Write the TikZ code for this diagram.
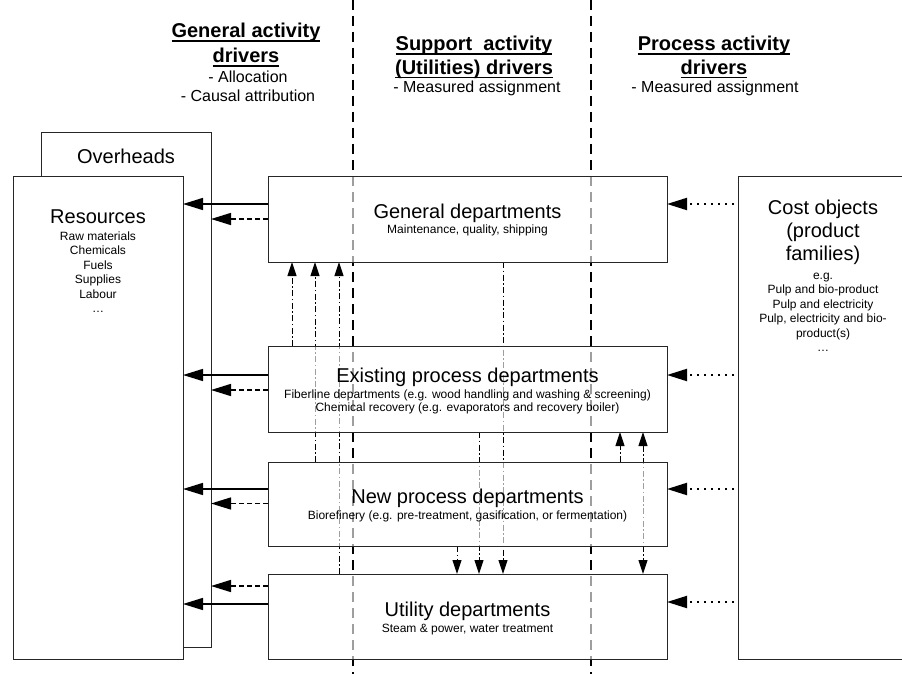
\documentclass[tikz,border=0pt]{standalone}
\usepackage{fontspec}
\setmainfont{Liberation Sans}
\usetikzlibrary{arrows.meta,calc,backgrounds}

% heading underline: a rule under the whole line
\newcommand\ulh[1]{\setbox0=\hbox{#1}\rlap{\rule[-4pt]{\wd0}{1.7pt}}\box0}

\tikzset{
  seethrough/.style={draw=black!85, line width=1pt, fill=white, fill opacity=0.62,
    text opacity=1, inner sep=0pt, outer sep=0pt},
  opaquebox/.style={draw=black!85, line width=1pt, fill=white, inner sep=0pt, outer sep=0pt},
  bigtxt/.style={font=\fontsize{20}{23}\selectfont, anchor=base, inner sep=0pt},
  smalltxt/.style={font=\fontsize{12}{14}\selectfont, anchor=base, inner sep=0pt},
  headtxt/.style={font=\bfseries\fontsize{20}{24}\selectfont, anchor=base, inner sep=0pt},
  subtxt/.style={font=\fontsize{16}{18}\selectfont, anchor=base, inner sep=0pt},
  bigtip/.tip={Triangle[length=20pt,width=12pt]},
  smalltip/.tip={Triangle[length=14pt,width=9pt]},
  solidarr/.style={line width=1.5pt, -bigtip},
  dasharr/.style={line width=1.5pt, dash pattern=on 5pt off 3pt, -bigtip},
  dotarr/.style={line width=2pt, dash pattern=on 2pt off 5pt, -bigtip, shorten <=4pt},
  ddarr/.style={line width=1pt, dash pattern=on 6pt off 2.5pt on 1.5pt off 2.5pt, -smalltip},
  ddboth/.style={ddarr, smalltip-smalltip},
  separator/.style={line width=1.3pt, dash pattern=on 10pt off 6pt},
}

\begin{document}
\begin{tikzpicture}[x=1pt,y=-1pt]
\useasboundingbox (0,0) rectangle (902,674);
\clip (0,0) rectangle (902,674);

% ---------- boxes ----------
\node[opaquebox, minimum width=170pt, minimum height=514pt] (ovh) at (126,390) {};
\node[opaquebox, minimum width=170pt, minimum height=483pt] (res) at (98,417.5) {};
\node[opaquebox, minimum width=182pt, minimum height=483pt] (cost) at (829,417.5) {};

\node[seethrough, minimum width=399pt, minimum height=86pt] (gen)  at (467.5,219) {};
\node[seethrough, minimum width=399pt, minimum height=86pt] (ex)   at (467.5,389) {};
\node[seethrough, minimum width=399pt, minimum height=84pt] (new)  at (467.5,504) {};
\node[seethrough, minimum width=399pt, minimum height=85pt] (util) at (467.5,616.5) {};

% ---------- column headings ----------
\node[headtxt] (h1a) at (246,38) {\ulh{General activity}};
\node[headtxt] (h1b) at (246,63) {\ulh{drivers}};
\node[subtxt]  (h1c) at (248,83) {- Allocation};
\node[subtxt]  (h1d) at (248,102) {- Causal attribution};

\node[headtxt] (h2a) at (474,51) {\ulh{Support\ \ activity}};
\node[headtxt] (h2b) at (474,74.5) {\ulh{(Utilities) drivers}};
\node[subtxt]  (h2c) at (477,93) {- Measured assignment};

\node[headtxt] (h3a) at (714,51) {\ulh{Process activity}};
\node[headtxt] (h3b) at (714,74.5) {\ulh{drivers}};
\node[subtxt]  (h3c) at (715,93) {- Measured assignment};

% ---------- box texts ----------
\node[bigtxt] (ovhT) at (126,164) {Overheads};

\node[bigtxt] (resT) at (98,223) {Resources};
\foreach \t/\y [count=\i] in {Raw materials/240, Chemicals/254.5, Fuels/269,
    Supplies/283.5, Labour/298, \dots/312}
  \node[smalltxt] (res\i) at (98,\y) {\t};

\node[bigtxt] (genT) at (467.5,218) {General departments};
\node[smalltxt] (genS) at (467.5,233) {Maintenance, quality, shipping};

\node[bigtxt] (exT) at (467.5,382) {Existing process departments};
\node[smalltxt] (exS1) at (467.5,398) {Fiberline departments (e.g. wood handling and washing \& screening)};
\node[smalltxt] (exS2) at (467.5,411.5) {Chemical recovery (e.g. evaporators and recovery boiler)};

\node[bigtxt] (newT) at (467.5,503) {New process departments};
\node[smalltxt] (newS) at (467.5,519) {Biorefinery (e.g. pre-treatment, gasification, or fermentation)};

\node[bigtxt] (utilT) at (467.5,616) {Utility departments};
\node[smalltxt] (utilS) at (467.5,632) {Steam \& power, water treatment};

\node[bigtxt] (costT1) at (823,214) {Cost objects};
\node[bigtxt] (costT2) at (823,237) {(product};
\node[bigtxt] (costT3) at (823,260) {families)};
\foreach \t/\y [count=\i] in {e.g./279, Pulp and bio-product/293.5,
    Pulp and electricity/308, {Pulp, electricity and bio-}/322.5,
    product(s)/337, \dots/351}
  \node[smalltxt] (cost\i) at (823,\y) {\t};

% ---------- flows to resources and overheads ----------
\draw[solidarr] ($(gen.west)+(0,-15)$) coordinate (g1) -- (g1 -| res.east);
\draw[dasharr]  ($(gen.west)+(0,0)$)   coordinate (g2) -- (g2 -| ovh.east);
\draw[solidarr] ($(ex.west)+(0,-14)$)  coordinate (e1) -- (e1 -| res.east);
\draw[dasharr]  ($(ex.west)+(0,1)$)    coordinate (e2) -- (e2 -| ovh.east);
\draw[solidarr] ($(new.west)+(0,-15)$) coordinate (n1) -- (n1 -| res.east);
\draw[dasharr]  ($(new.west)+(0,-0.5)$) coordinate (n2) -- (n2 -| ovh.east);
\draw[dasharr]  ($(util.west)+(0,-30.5)$) coordinate (u2) -- (u2 -| ovh.east);
\draw[solidarr] ($(util.west)+(0,-12.5)$) coordinate (u1) -- (u1 -| res.east);

% ---------- flows from cost objects ----------
\coordinate (cg) at ($(gen.east)+(0,-15)$);
\coordinate (ce) at ($(ex.east)+(0,-14)$);
\coordinate (cn) at ($(new.east)+(0,-15)$);
\coordinate (cu) at ($(util.east)+(0,-14.5)$);
\foreach \c in {cg,ce,cn,cu}
  \draw[dotarr] (\c -| cost.west) -- (\c);

% ---------- column separators and support flows (behind the boxes) ----------
\coordinate (x1) at ($(gen.south west)+(24,0)$);
\coordinate (x2) at ($(gen.south west)+(47,0)$);
\coordinate (x3) at ($(gen.south west)+(71,0)$);
\coordinate (x4) at ($(gen.south west)+(189,0)$);
\coordinate (x5) at ($(gen.south west)+(211,0)$);
\coordinate (x6) at ($(gen.south west)+(235,0)$);
\coordinate (x7) at ($(gen.south west)+(352,0)$);
\coordinate (x8) at ($(gen.south west)+(375,0)$);
\coordinate (s1top) at (353,0);
\coordinate (s1bot) at (353,674);
\coordinate (s2top) at (591,0);
\coordinate (s2bot) at (591,674);

\begin{scope}[on background layer]
  \fill[white] (0,0) rectangle (902,674);
  \draw[separator] (s1top) -- (s1bot);
  \draw[separator] (s2top) -- (s2bot);
  \draw[ddarr] (x1 |- ex.north) -- (x1);
  \draw[ddarr] (x2 |- new.north) -- (x2);
  \draw[ddarr] (x3 |- util.north) -- (x3);
  \draw[ddarr] (x4 |- new.south) -- (x4 |- util.north);
  \draw[ddarr] (x5 |- ex.south) -- (x5 |- util.north);
  \draw[ddarr] (x6) -- (x6 |- util.north);
  \draw[ddarr] (x7 |- new.north) -- (x7 |- ex.south);
  \draw[ddboth] (x8 |- ex.south) -- (x8 |- util.north);
\end{scope}
\end{tikzpicture}
\end{document}
